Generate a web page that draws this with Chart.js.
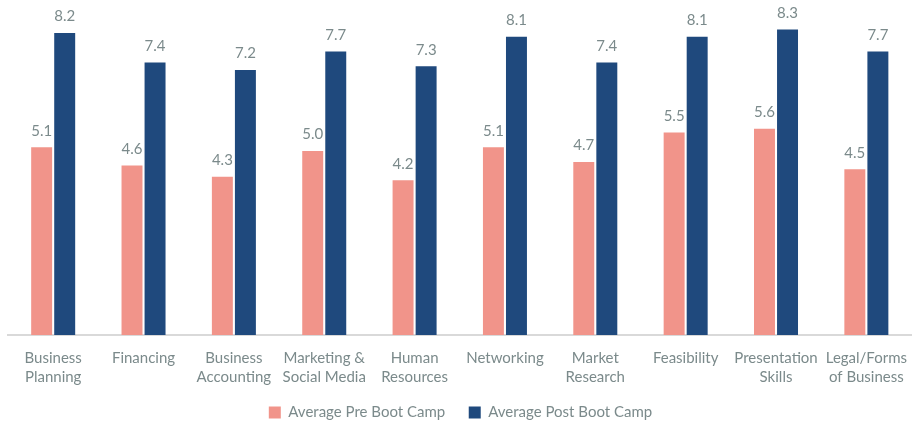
<!DOCTYPE html>
<html>
<head>
<meta charset="utf-8">
<script src="https://cdn.jsdelivr.net/npm/chart.js@4"></script>
<style>
  html, body { margin: 0; padding: 0; background: #fff; }
  #wrap { width: 913px; height: 423px; }
</style>
</head>
<body>
<div id="wrap"><canvas id="myChart"></canvas></div>
<script>
const categories = [
    ['Business', 'Planning'],
    'Financing',
    ['Business', 'Accounting'],
    ['Marketing &', 'Social Media'],
    ['Human', 'Resources'],
    'Networking',
    ['Market', 'Research'],
    'Feasibility',
    ['Presentation', 'Skills'],
    ['Legal/Forms', 'of Business']
];
const preValues = [5.1, 4.6, 4.3, 5.0, 4.2, 5.1, 4.7, 5.5, 5.6, 4.5];
const postValues = [8.2, 7.4, 7.2, 7.7, 7.3, 8.1, 7.4, 8.1, 8.3, 7.7];

const textColor = '#7b8a8b';
const fontFamily = 'Lato, "Open Sans", sans-serif';

// draws the value above each bar
const barValues = {
    id: 'barValues',
    afterDatasetsDraw(chart) {
        const ctx = chart.ctx;
        ctx.save();
        ctx.font = '15px ' + fontFamily;
        ctx.fillStyle = textColor;
        ctx.textAlign = 'center';
        ctx.textBaseline = 'bottom';
        chart.data.datasets.forEach(function (ds, i) {
            chart.getDatasetMeta(i).data.forEach(function (bar, j) {
                ctx.fillText(ds.data[j].toFixed(1), bar.x, bar.y - 9);
            });
        });
        ctx.restore();
    }
};

// legend box is a bit tall by default, trim it so the plot gets the room
const legendTrim = {
    id: 'legendTrim',
    beforeLayout(chart) {
        const lg = chart.legend;
        if (lg && !lg._trimmed) {
            const fit = lg.fit;
            lg.fit = function () {
                fit.call(this);
                this.height -= 7;
            };
            lg._trimmed = true;
        }
    }
};

document.addEventListener("DOMContentLoaded", function () {
const data = {
    labels: categories,
    datasets: [{
        label: 'Average Pre Boot Camp   ',
        data: preValues,
        backgroundColor: '#f1948a',
        categoryPercentage: 0.51,
        barPercentage: 0.91
    }, {
        label: 'Average Post Boot Camp',
        data: postValues,
        backgroundColor: '#1f497d',
        categoryPercentage: 0.51,
        barPercentage: 0.91
    }]
};
const config = {
    type: 'bar',
    data: data,
    plugins: [barValues, legendTrim],
    options: {
        responsive: true,
        maintainAspectRatio: false,
        animation: false,
        layout: {
            padding: { left: 8, right: 0, top: 0, bottom: 0 }
        },
        scales: {
            x: {
                grid: { display: false },
                border: { color: '#d9d9d9', width: 2 },
                ticks: {
                    color: textColor,
                    font: { family: fontFamily, size: 15, lineHeight: 1.27 },
                    maxRotation: 0,
                    autoSkip: false,
                    padding: 6
                }
            },
            y: {
                display: false,
                min: 0,
                max: 9.1
            }
        },
        plugins: {
            legend: {
                display: true,
                position: 'bottom',
                labels: {
                    color: textColor,
                    font: { family: fontFamily, size: 15 },
                    boxWidth: 12,
                    boxHeight: 12,
                    padding: 12
                }
            },
            tooltip: { enabled: false }
        }
    }
};
var myChart = new Chart(document.getElementById('myChart'), config);
});
</script>
</body>
</html>
